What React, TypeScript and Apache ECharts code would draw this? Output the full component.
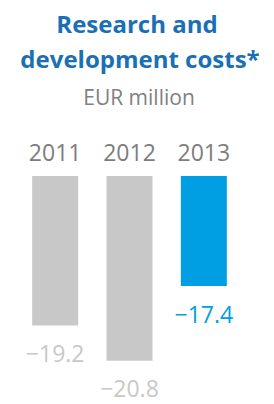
import React, { useEffect, useRef } from "react";
import * as echarts from "echarts";

const categories = ["2011", "2012", "2013"];
const values = [-19.2, -20.8, -17.4];
const valueLabels = ["−19.2", "−20.8", "−17.4"];
const titleLines = ["Research and", "development costs*"];
const subtitle = "EUR million";

const GRAY = "#c8c8c8";
const BLUE = "#009fe3";

export default function App() {
  const ref = useRef<HTMLDivElement>(null);
  useEffect(() => {
    if (!ref.current) return;
    const chart = echarts.init(ref.current, undefined, { renderer: "svg" });
    const font = "'Open Sans', 'Noto Sans', sans-serif";
    chart.setOption({
      animation: false,
      backgroundColor: "#ffffff",
      graphic: [
        {
          type: "text",
          x: 137,
          y: 23,
          style: {
            text: titleLines[0],
            textAlign: "center",
            textVerticalAlign: "middle",
            fontFamily: font,
            fontSize: 24,
            fontWeight: "bold",
            fill: "#1a6fb5",
          },
        },
        {
          type: "text",
          x: 140,
          y: 58,
          style: {
            text: titleLines[1],
            textAlign: "center",
            textVerticalAlign: "middle",
            fontFamily: font,
            fontSize: 24,
            fontWeight: "bold",
            fill: "#1a6fb5",
          },
        },
        {
          type: "text",
          x: 139,
          y: 97,
          style: {
            text: subtitle,
            textAlign: "center",
            textVerticalAlign: "middle",
            fontFamily: font,
            fontSize: 21,
            fill: "#808080",
          },
        },
      ],
      grid: { left: 18, right: 33, top: 176, bottom: 8 },
      xAxis: {
        type: "category",
        data: categories,
        position: "top",
        axisLine: { show: false },
        axisTick: { show: false },
        axisLabel: {
          fontFamily: font,
          fontSize: 23,
          color: "#7d7d7d",
          margin: 13,
        },
      },
      yAxis: {
        type: "value",
        min: -22.4,
        max: -12.4,
        show: false,
        splitLine: { show: false },
      },
      series: [
        {
          type: "bar",
          data: values.map((v, i) => ({
            value: v,
            itemStyle: { color: i === 2 ? BLUE : GRAY },
            label: { color: i === 2 ? BLUE : GRAY },
          })),
          barWidth: 46,
          clip: true,
          label: {
            show: true,
            position: "bottom",
            distance: 16,
            fontFamily: font,
            fontSize: 23,
            formatter: (p: any) => valueLabels[p.dataIndex],
          },
        },
      ],
    });
    return () => chart.dispose();
  }, []);
  return (
    <div
      ref={ref}
      style={{ position: "absolute", left: 0, top: 0, width: 274, height: 404 }}
    />
  );
}
